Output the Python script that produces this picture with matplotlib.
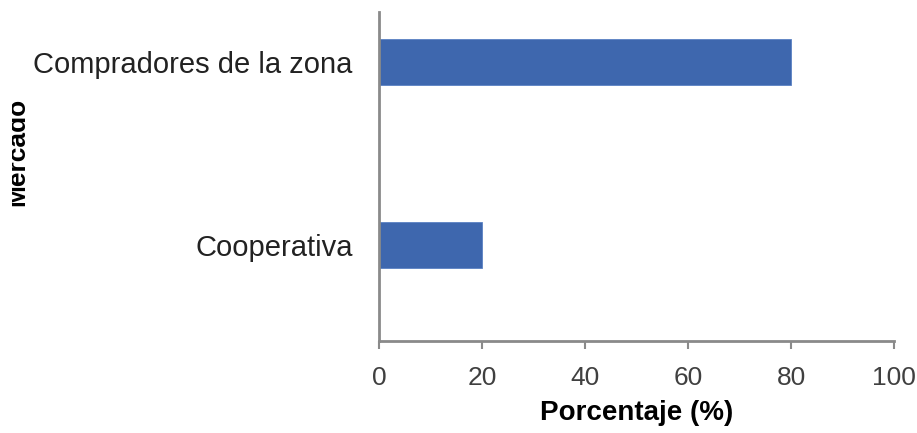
import matplotlib.pyplot as plt
from matplotlib.patches import Rectangle

plt.rcParams['font.family'] = ['Liberation Sans', 'DejaVu Sans']

categorias = ['Cooperativa', 'Compradores de la zona']
porcentajes = [20, 80]
xticks = [0, 20, 40, 60, 80, 100]

fig = plt.figure(figsize=(9.17, 4.33), dpi=100)
ax = fig.add_axes([379/917, 92/433, 515/917, 329/433])

ax.barh(range(len(categorias)), porcentajes, height=0.25, color='#3E67AE',
        edgecolor='#5B82C4', linewidth=0.6)
ax.set_xlim(0, 100)
ax.set_ylim(-0.52, 1.27)
ax.set_xticks(xticks)
ax.set_yticks(range(len(categorias)))
ax.set_yticklabels(categorias, fontsize=21, color='#222222')
ax.tick_params(axis='y', length=0, pad=19)
ax.tick_params(axis='x', length=6, width=1.5, color='#8a8a8a', labelsize=19,
               labelcolor='#404040', pad=12)

for s in ['top', 'right']:
    ax.spines[s].set_visible(False)
for s in ['left', 'bottom']:
    ax.spines[s].set_color('#8a8a8a')
    ax.spines[s].set_linewidth(2)

ax.set_xlabel('Porcentaje (%)', fontsize=20, fontweight='bold', labelpad=7)

# etiqueta del eje y, recortada por el borde izquierdo como en el original
t = fig.text(24/917, (433-152)/433, 'Mercado', rotation=90, rotation_mode='anchor',
             ha='center', va='baseline', fontsize=19, fontweight='bold')
clip = Rectangle((12/917, 0), 1, 1, transform=fig.transFigure)
t.set_clip_path(clip)

fig.savefig('out.png', dpi=100)
